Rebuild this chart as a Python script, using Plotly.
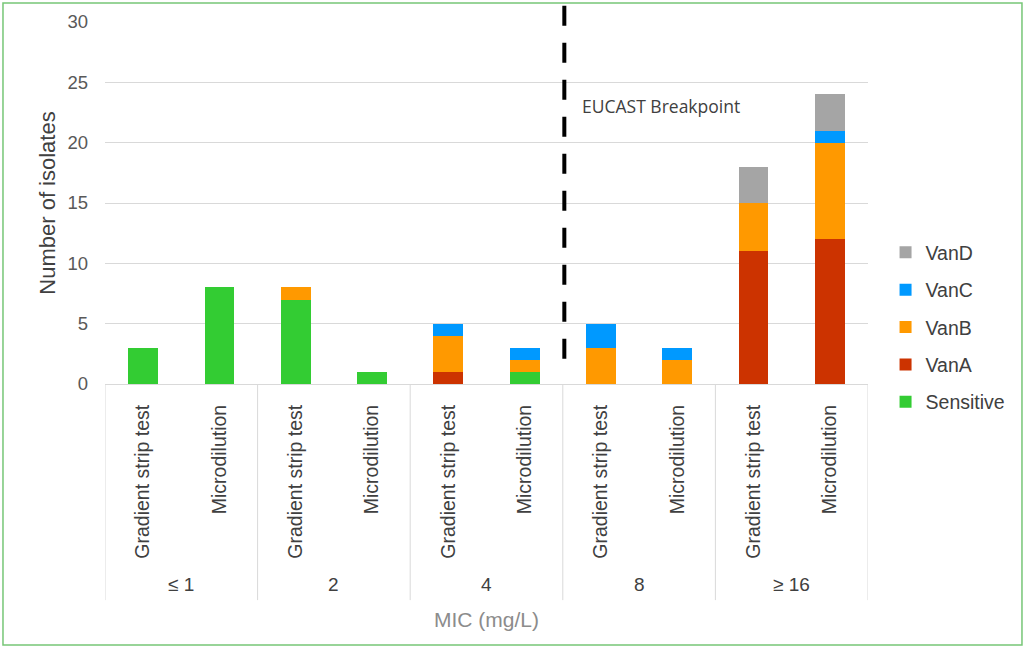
import plotly.graph_objects as go

groups = ["≤ 1", "2", "4", "8", "≥ 16"]
methods = ["Gradient strip test", "Microdilution"]

sensitive = [3, 8, 7, 1, 0, 1, 0, 0, 0, 0]
vanA      = [0, 0, 0, 0, 1, 0, 0, 0, 11, 12]
vanB      = [0, 0, 1, 0, 3, 1, 3, 2, 4, 8]
vanC      = [0, 0, 0, 0, 1, 1, 2, 1, 0, 1]
vanD      = [0, 0, 0, 0, 0, 0, 0, 0, 3, 3]

series = [
    ("Sensitive", sensitive, "#33CC33"),
    ("VanA", vanA, "#CC3300"),
    ("VanB", vanB, "#FF9900"),
    ("VanC", vanC, "#0099FF"),
    ("VanD", vanD, "#A5A5A5"),
]

x = list(range(len(groups) * len(methods)))
tick_text = [m for g in groups for m in methods]

fig = go.Figure()
n = len(series)
for i, (name, vals, col) in enumerate(series):
    fig.add_trace(go.Bar(
        x=x, y=vals, name=name, marker=dict(color=col, line=dict(width=0)),
        width=0.39, legendgroup=name, legendrank=n - i,
    ))

FONT = "Liberation Sans, Arial, sans-serif"
fig.update_layout(
    barmode="stack",
    width=1025, height=649,
    margin=dict(l=105, r=157, t=22, b=265, autoexpand=False),
    paper_bgcolor="white", plot_bgcolor="white",
    font=dict(family=FONT, color="#404040"),
    showlegend=True,
    legend=dict(
        x=1.023, y=0.157, xanchor="left", yanchor="middle",
        traceorder="grouped", tracegroupgap=9,
        font=dict(size=19.5, color="#404040"),
        itemwidth=30,
    ),
    xaxis=dict(
        range=[-0.5, 9.5], tickmode="array", tickvals=x, ticktext=tick_text,
        tickangle=-90, tickfont=dict(size=19.5, color="#404040", family=FONT),
        showgrid=False, zeroline=False, showline=True, linecolor="#D9D9D9",
        ticks="", ticklabelstandoff=12, automargin=False,
    ),
    yaxis=dict(
        range=[0, 30], tickvals=[0, 5, 10, 15, 20, 25, 30],
        tickfont=dict(size=18.5, color="#595959", family=FONT),
        showgrid=True, gridcolor="#D9D9D9", gridwidth=1, zeroline=False,
        showline=False, ticks="", ticklabelstandoff=16, automargin=False,
        title=dict(text="Number of isolates", font=dict(size=22, color="#404040"), standoff=5),
    ),
)

shapes = []
for b in [-0.5, 1.5, 3.5, 5.5, 7.5, 9.5]:
    shapes.append(dict(type="line", xref="x", yref="paper", x0=b, x1=b, y0=0, y1=-0.597,
                       line=dict(color="#D9D9D9", width=1)))
shapes.append(dict(type="line", xref="x", yref="paper", x0=5.52, x1=5.52, y0=1.045, y1=0.05,
                   line=dict(color="black", width=4, dash="20px,17px")))
shapes.append(dict(type="rect", xref="paper", yref="paper", x0=-0.1337, x1=1.2018, y0=-0.721, y1=1.0525,
                   line=dict(color="#77C677", width=1.5), fillcolor="rgba(0,0,0,0)"))
fig.update_layout(shapes=shapes)

annotations = []
for i, g in enumerate(groups):
    annotations.append(dict(x=2 * i + 0.5, y=-0.555, xref="x", yref="paper", text=g, showarrow=False,
                            font=dict(size=19, color="#404040", family=FONT), yanchor="middle"))
annotations.append(dict(x=0.5, y=-0.65, xref="paper", yref="paper", text="MIC (mg/L)", showarrow=False,
                        font=dict(size=21, color="#8C8C8C", family=FONT), yanchor="middle"))
annotations.append(dict(x=5.72, y=23, xref="x", yref="y", text="EUCAST Breakpoint", showarrow=False,
                        xanchor="left", yanchor="middle",
                        font=dict(size=17.5, color="#404040", family="Open Sans, sans-serif")))
fig.update_layout(annotations=annotations)

fig.write_html(
    "out.html",
    config={"displayModeBar": False},
    post_script="document.body.style.margin='0';document.body.style.overflow='hidden';",
)
